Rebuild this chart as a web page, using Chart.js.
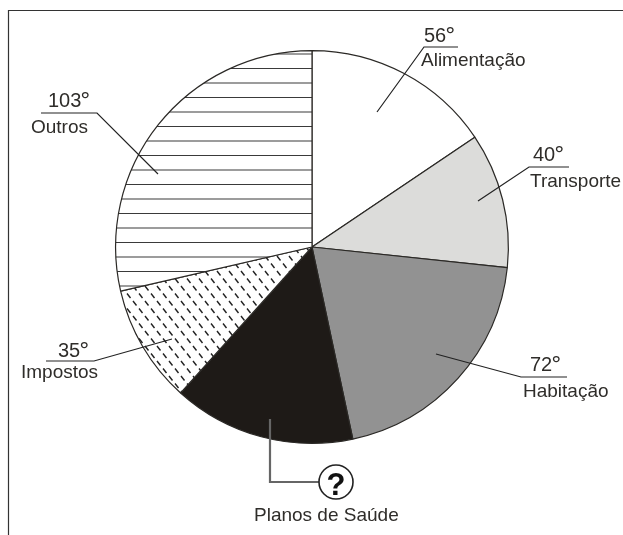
<!DOCTYPE html>
<html lang="pt">
<head>
<meta charset="utf-8">
<title>Orçamento</title>
<script src="https://cdn.jsdelivr.net/npm/chart.js@4"></script>
<style>
    html, body { margin: 0; background: #fff; }
    canvas { display: block; }
</style>
</head>
<body>
<canvas id="pizza" width="623" height="535"></canvas>
<script>
// Dados do grafico
const categorias = ['Alimentação', 'Transporte', 'Habitação', 'Planos de Saúde', 'Impostos', 'Outros'];
const graus = [56, 40, 72, 54, 35, 103];
const rotulos = ['56', '40', '72', '?', '35', '103'];

const INK = '#2f2d2a';
const FONT = '"Liberation Sans", Arial, sans-serif';

// Horizontal hatch for "Outros"
function hatchPattern(ctx) {
    const tile = document.createElement('canvas');
    tile.width = 10;
    tile.height = 29;
    const t = tile.getContext('2d');
    t.fillStyle = '#fff';
    t.fillRect(0, 0, 10, 29);
    t.fillStyle = '#3a3a3a';
    t.fillRect(0, 10, 10, 1);
    t.fillRect(0, 24.5, 10, 1);
    return ctx.createPattern(tile, 'repeat');
}

// Short slanted dashes for "Impostos"
function dashPattern(ctx) {
    const tile = document.createElement('canvas');
    tile.width = 12;
    tile.height = 15;
    const t = tile.getContext('2d');
    t.fillStyle = '#fff';
    t.fillRect(0, 0, 12, 15);
    t.strokeStyle = '#222';
    t.lineWidth = 1.4;
    t.beginPath();
    t.moveTo(1, 1);
    t.lineTo(4.5, 5.5);
    t.moveTo(7, 8.5);
    t.lineTo(10.5, 13);
    t.stroke();
    return ctx.createPattern(tile, 'repeat');
}

// Leader lines and labels, in canvas pixels
const chamadas = [
    { i: 0, line: [[458, 47], [424, 47], [377, 112]], num: [424, 42], label: [421, 66] },
    { i: 1, line: [[569, 167], [529, 167], [478, 201]], num: [533, 161], label: [530, 187] },
    { i: 2, line: [[567, 377], [521, 377], [436, 354]], num: [530, 371], label: [523, 397] },
    { i: 4, line: [[46, 361], [94, 361], [172, 339]], num: [58, 357], label: [21, 378] },
    { i: 5, line: [[41, 113], [97, 113], [158, 174]], num: [48, 107], label: [31, 133] }
];

const moldura = {
    id: 'moldura',
    beforeDraw(chart) {
        const c = chart.ctx;
        c.save();
        c.fillStyle = '#fff';
        c.fillRect(0, 0, chart.width, chart.height);
        c.strokeStyle = '#333';
        c.lineWidth = 1.2;
        c.beginPath();
        c.moveTo(8.5, 535);
        c.lineTo(8.5, 10.5);
        c.lineTo(623, 10.5);
        c.stroke();
        c.restore();
    }
};

const anotacoes = {
    id: 'anotacoes',
    afterDraw(chart) {
        const c = chart.ctx;
        c.save();
        c.textBaseline = 'alphabetic';
        c.textAlign = 'left';
        c.lineJoin = 'miter';

        chamadas.forEach(ch => {
            c.strokeStyle = '#222';
            c.lineWidth = 1.2;
            c.beginPath();
            ch.line.forEach(([x, y], k) => k ? c.lineTo(x, y) : c.moveTo(x, y));
            c.stroke();

            c.fillStyle = INK;
            c.font = `20px ${FONT}`;
            const txt = rotulos[ch.i];
            c.fillText(txt, ch.num[0], ch.num[1]);
            const w = c.measureText(txt).width;
            c.font = '22px "DejaVu Sans"';
            c.fillText('°', ch.num[0] + w - 1.5, ch.num[1] + 1);
            c.font = `19px ${FONT}`;
            c.fillText(categorias[ch.i], ch.label[0], ch.label[1]);
        });

        // Planos de Saude: value unknown, shown as a question mark
        c.strokeStyle = '#666';
        c.lineWidth = 2.2;
        c.beginPath();
        c.moveTo(270, 419);
        c.lineTo(270, 482);
        c.lineTo(319, 482);
        c.stroke();

        c.strokeStyle = '#222';
        c.lineWidth = 1.6;
        c.beginPath();
        c.arc(336, 482, 17, 0, Math.PI * 2);
        c.stroke();

        c.fillStyle = '#111';
        c.font = `bold 31px ${FONT}`;
        c.textAlign = 'center';
        c.fillText(rotulos[3], 336, 495);

        c.fillStyle = INK;
        c.font = `19px ${FONT}`;
        c.textAlign = 'left';
        c.fillText(categorias[3], 254, 521);
        c.restore();
    }
};

const ctx = document.getElementById('pizza').getContext('2d');

new Chart(ctx, {
    type: 'pie',
    data: {
        labels: categorias,
        datasets: [{
            data: graus,
            backgroundColor: ['#ffffff', '#dcdcda', '#929292', '#1e1a17', dashPattern(ctx), hatchPattern(ctx)],
            borderColor: '#2b2926',
            borderWidth: 1.2,
            borderAlign: 'center'
        }]
    },
    options: {
        responsive: false,
        animation: false,
        layout: { padding: { left: 115, right: 114, top: 50, bottom: 91 } },
        plugins: {
            legend: { display: false },
            tooltip: { enabled: false }
        }
    },
    plugins: [moldura, anotacoes]
});
</script>
</body>
</html>
